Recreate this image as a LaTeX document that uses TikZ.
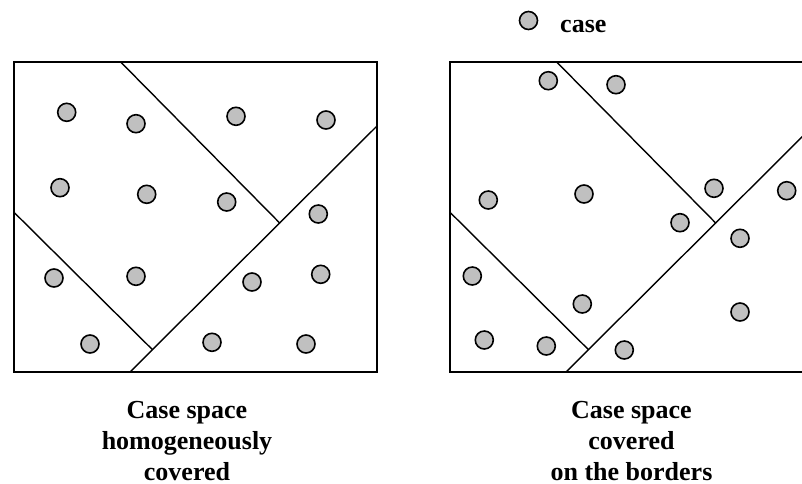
\documentclass[tikz,border=0pt]{standalone}
\usepackage{fontspec}
\setmainfont{Liberation Serif}
\definecolor{casegray}{RGB}{192,192,192}
\tikzset{
  case/.style={circle, draw, fill=casegray, line width=1.6pt, minimum size=18pt, inner sep=0pt},
  region/.style={line width=1.4pt},
  caption/.style={align=center, anchor=north, inner sep=0pt, font=\fontsize{26}{31}\selectfont\bfseries}
}
\begin{document}
\begin{tikzpicture}[x=1pt, y=-1pt]
      \useasboundingbox (0,0) rectangle (802,483);
      \clip (0,0) rectangle (802,483);

      % legend
      \node[case] (legcase) at (528.5,20.5) {};  % legend circle
      \node[anchor=base west, inner sep=0pt, font=\fontsize{26}{31}\selectfont\bfseries] (legtext) at (560,32) {case};  % legend label

      % the two case spaces, same partition
      \foreach \dx in {0,436} {
        \begin{scope}[xshift=\dx]
          \draw[region] (14,62) rectangle (377,372);  % frame
          \coordinate (tl) at (120.7,62);
          \coordinate (bm) at (130,372);
          \coordinate (rt) at (377,126);
          \coordinate (ml) at (14,212.3);
          \coordinate (c1) at (280,223.3);
          \coordinate (c2) at (152.5,349.7);
          \draw[region] (bm) -- (rt);  % long diagonal
          \draw[region] (tl) -- (c1);  % upper border
          \draw[region] (ml) -- (c2);  % lower border
        \end{scope}
      }

      % cases, homogeneously spread
      \foreach \x/\y [count=\i] in {66.7/112.3, 136/123.7, 236/116.3, 326/120,
          60/187.7, 146.7/194.3, 226.7/202, 318.3/214,
          54/278, 136/276.3, 252/282, 320.7/274.3,
          90/344, 212/342.3, 306/344}
        \node[case] (h\i) at (\x,\y) {};

      % cases, near the borders
      \foreach \x/\y [count=\i] in {548.3/80.7, 616/84.7, 488.3/200, 584/194,
          714/188.3, 786.7/190.7, 680/222.7, 740/238.3,
          472.3/276, 582.3/304, 740/312,
          484.3/340, 546.3/346, 624.3/350}
        \node[case] (b\i) at (\x,\y) {};

      % captions
      \node[caption] (lefttext) at (187,400.8) {Case space\\homogeneously\\covered};
      \node[caption] (righttext) at (631.5,400.8) {Case space\\covered\\on the borders};
\end{tikzpicture}
\end{document}
